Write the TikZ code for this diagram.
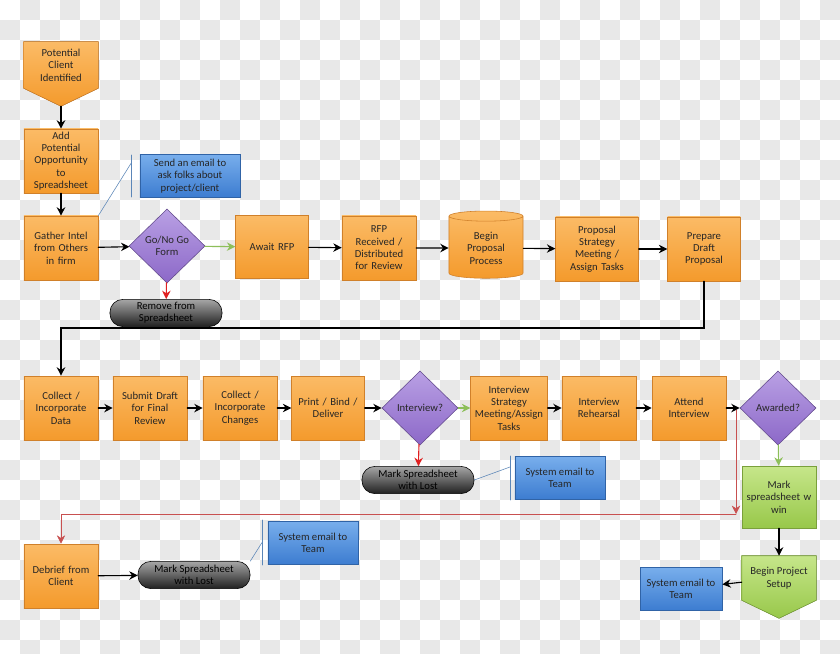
\documentclass[tikz,border=0pt]{standalone}
\usepackage{fontspec}
\setmainfont{Carlito}
\usetikzlibrary{shapes.geometric,arrows.meta,calc}

\definecolor{boxline}{HTML}{D0802A}
\definecolor{orangetop}{HTML}{FBBB66}
\definecolor{orangebot}{HTML}{F49A2C}
\definecolor{purpletop}{HTML}{B9A0E4}
\definecolor{purplebot}{HTML}{8C68C8}
\definecolor{greentop}{HTML}{C6E68A}
\definecolor{greenbot}{HTML}{98C84A}
\definecolor{bluetop}{HTML}{78AEEC}
\definecolor{bluebot}{HTML}{3C7CD0}
\definecolor{calloutline}{HTML}{5B86B8}
\definecolor{arrowgreen}{HTML}{8DBF5A}
\definecolor{arrowred}{HTML}{E02020}
\definecolor{loopred}{HTML}{C85050}
\definecolor{checker}{HTML}{E8E8E8}

\begin{document}
\begin{tikzpicture}
		[x=0.025cm,y=-0.025cm,line cap=round,
		%Styles
		every node/.style={font=\fontsize{7.6}{8.8}\selectfont,align=center,text=black!85},
		process/.style={draw=boxline,top color=orangetop,bottom color=orangebot,
			minimum width=1.85cm,minimum height=1.6cm,text width=1.75cm,inner sep=1pt},
		processwin/.style={process,draw=greenbot!80!black,top color=greentop,bottom color=greenbot},
		offpage/.style={minimum width=1.85cm,minimum height=1.15cm,text width=1.75cm,inner sep=1pt},
		decision/.style={diamond,draw=purplebot!70!black,top color=purpletop,bottom color=purplebot,
			minimum width=1.9cm,minimum height=1.85cm,inner sep=0pt},
		terminal/.style={rounded corners=0.32cm,draw=black,top color=gray!70,bottom color=gray!25!black,
			minimum width=2.8cm,minimum height=0.68cm,inner sep=0pt,text=black},
		note/.style={draw=bluebot!80!black,top color=bluetop,bottom color=bluebot,
			minimum width=2.25cm,minimum height=1.08cm,inner sep=1pt},
		flow/.style={-{Stealth[length=6pt,width=6pt]},thick,black},
		yes/.style={flow,arrowgreen},
		no/.style={flow,arrowred},
		callout/.style={calloutline,thin}
		]

		%Background
		\useasboundingbox (0,0) rectangle (840,653);
		\fill[white] (0,0) rectangle (840,653);
		\foreach \i in {0,...,41}
			\foreach \j in {0,...,32}{
				\pgfmathparse{int(mod(\i+\j,2))}
				\ifnum\pgfmathresult=1 \fill[checker] (\i*20,\j*20) rectangle ++(20,20);\fi
			}

		%Row 1
		\node[offpage] (client) at (61,65) {};
		\fill[draw=boxline,top color=orangetop,bottom color=orangebot]
			(client.north west) -- (client.north east) -- (client.south east)
			-- ($(client.south)+(0,-0.45cm)$) -- (client.south west) -- cycle;
		\node at (client) {Potential\\Client\\Identified};
		\node[process] (addopp) at (61,161) {Add\\Potential\\Opportunity\\to\\Spreadsheet};
		\node[process] (gather) at (61,248) {Gather Intel\\from Others\\in firm};
		\node[note,minimum width=2.5cm] (askmail) at (190,176) {Send an email to\\ask folks about\\project/client};
		\node[decision] (gonogo) at (167,246) {Go/No Go\\Form};
		\node[terminal] (remove) at (166,313) {Remove from\\Spreadsheet};
		\node[process,minimum width=1.8cm,minimum height=1.57cm] (await) at (272,247) {Await RFP};
		\node[process] (rfp) at (379,248) {RFP\\Received /\\Distributed\\for Review};
		\node[cylinder,shape border rotate=90,aspect=0.25,draw=boxline,top color=orangetop,bottom color=orangebot,
			minimum width=1.85cm,minimum height=1.68cm,inner sep=1pt] (begin) at (486,248) {Begin\\Proposal\\Process};
		\node[process,minimum width=2.05cm,text width=2cm] (strategy) at (597,249) {Proposal\\Strategy\\Meeting /\\Assign Tasks};
		\node[process,minimum width=1.8cm] (prepare) at (704,249) {Prepare\\Draft\\Proposal};

		%Row 2
		\node[process] (collect) at (61,408) {Collect /\\Incorporate\\Data};
		\node[process] (submit) at (150,408) {Submit Draft\\for Final\\Review};
		\node[process] (changes) at (240,408) {Collect /\\Incorporate\\Changes};
		\node[process,minimum width=1.8cm] (print) at (328,408) {Print / Bind /\\Deliver};
		\node[decision] (interview) at (420,408) {Interview?};
		\node[terminal] (lost) at (418,480) {Mark Spreadsheet\\with Lost};
		\node[note] (teammail) at (560,478) {System email to\\Team};
		\node[process,text width=1.85cm] (istrat) at (509,408) {Interview\\Strategy\\Meeting/Assign\\Tasks};
		\node[process] (rehearsal) at (599,408) {Interview\\Rehearsal};
		\node[process] (attend) at (689,408) {Attend\\Interview};
		\node[decision] (awarded) at (778,408) {Awarded?};
		\node[processwin,minimum height=1.55cm] (win) at (779,497) {Mark\\spreadsheet w\\win};
		\node[offpage,minimum height=1.1cm] (setup) at (779,578) {};
		\fill[draw=greenbot!80!black,top color=greentop,bottom color=greenbot]
			(setup.north west) -- (setup.north east) -- (setup.south east)
			-- ($(setup.south)+(0,-0.45cm)$) -- (setup.south west) -- cycle;
		\node at (setup) {Begin Project\\Setup};
		\node[note,minimum width=2.05cm] (setupmail) at (681,589) {System email to\\Team};

		%Row 3
		\node[process] (debrief) at (61,576) {Debrief from\\Client};
		\node[terminal] (lostb) at (194,575) {Mark Spreadsheet\\with Lost};
		\node[note] (debriefmail) at (313,543) {System email to\\Team};

		%Connectors
		\draw[flow] ($(client.south)+(0,-0.45cm)$) -- (addopp);
		\draw[flow] (addopp) -- (gather);
		\draw[flow] (gather) -- (gonogo);
		\draw[yes] (gonogo) -- (await);
		\draw[no] (gonogo) -- (remove);
		\draw[flow] (await) -- (rfp);
		\draw[flow] (rfp) -- (begin);
		\draw[flow] (begin) -- (strategy);
		\draw[flow] (strategy) -- (prepare);
		\coordinate (turn) at (704,328);
		\draw[flow] (prepare.south) -- (turn) -| (collect.north);
		\draw[flow] (collect) -- (submit);
		\draw[flow] (submit) -- (changes);
		\draw[flow] (changes) -- (print);
		\draw[flow] (print) -- (interview);
		\draw[yes] (interview) -- (istrat);
		\draw[no] (interview) -- (lost);
		\draw[flow] (istrat) -- (rehearsal);
		\draw[flow] (rehearsal) -- (attend);
		\draw[flow] (attend) -- (awarded);
		\draw[yes] (awarded) -- (win);
		\draw[flow] (win) -- (setup);
		\draw[flow] (setup) -- (setupmail);
		\coordinate (lossstart) at (736,410);
		\coordinate (lossturn) at (736,514);
		\draw[loopred,-{Stealth[length=6pt,width=6pt]}] (lossstart) -- (lossturn);
		\draw[loopred,-{Stealth[length=6pt,width=6pt]}] (lossturn) -| (debrief.north);
		\draw[flow] (debrief) -- (lostb);

		%Callouts
		\coordinate (bar1a) at (131,155); \coordinate (bar1b) at (131,197);
		\draw[callout] (bar1a) -- (bar1b);
		\draw[callout] (gather.north east) -- ($(bar1a)!0.2!(bar1b)$);
		\coordinate (bar2a) at (510,456); \coordinate (bar2b) at (510,500);
		\draw[callout] (bar2a) -- (bar2b);
		\draw[callout] (lost.east) -- ($(bar2a)!0.25!(bar2b)$);
		\coordinate (bar3a) at (262,520); \coordinate (bar3b) at (262,565);
		\draw[callout] (bar3a) -- (bar3b);
		\draw[callout] (lostb.north east) -- ($(bar3a)!0.5!(bar3b)$);
	\end{tikzpicture}
\end{document}
